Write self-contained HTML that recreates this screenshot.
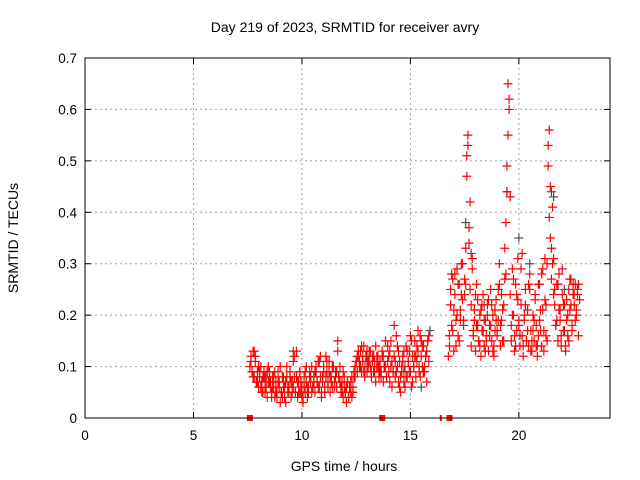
<!DOCTYPE html>
<html><head><meta charset="utf-8"><style>
body{margin:0;background:#fff;}
svg{display:block;font-family:"Liberation Sans",sans-serif;}
</style></head><body>
<svg id="chart" width="640" height="480">
<text x="345" y="32" text-anchor="middle" font-size="14">Day 219 of 2023, SRMTID for receiver avry</text>
<text x="344" y="471" text-anchor="middle" font-size="14">GPS time / hours</text>
<text x="18" y="238" text-anchor="middle" font-size="14" transform="rotate(-90 18 238)">SRMTID / TECUs</text>
<g id="grid"></g>
<g id="ticks"></g>
<g id="marks"></g>
<rect x="85" y="58" width="525" height="360" fill="none" stroke="#000" stroke-width="1"/>
</svg>
<script>
const xTicks=[0,5,10,15,20];
const yTicks=[0,0.1,0.2,0.3,0.4,0.5,0.6,0.7];
const yTickLabels=["0","0.1","0.2","0.3","0.4","0.5","0.6","0.7"];
const startA=7.6, stepA=0.05;
const srmtidA=[
0.10,0.12,0.09,0.13,0.08,0.11,0.07,0.09,0.06,0.08,0.10,0.07,0.05,0.09,0.06,0.08,0.04,0.07,0.09,0.06,
0.05,0.08,0.06,0.04,0.07,0.05,0.09,0.06,0.03,0.05,0.08,0.06,0.04,0.07,0.10,0.05,0.06,0.08,0.04,0.07,
0.06,0.12,0.05,0.08,0.04,0.07,0.09,0.05,0.06,0.03,0.08,0.05,0.07,0.04,0.06,0.09,0.07,0.10,0.06,0.08,
0.05,0.09,0.07,0.11,0.06,0.08,0.04,0.07,0.10,0.06,0.08,0.11,0.07,0.09,0.05,0.08,0.06,0.10,0.07,0.09,
0.06,0.15,0.08,0.10,0.05,0.07,0.04,0.06,0.05,0.03,0.07,0.04,0.06,0.05,0.08,0.06,0.09,0.08,0.11,0.09,
0.12,0.10,0.13,0.09,0.11,0.14,0.10,0.12,0.09,0.11,0.13,0.10,0.08,0.12,0.09,0.11,0.07,0.10,0.12,0.08,
0.11,0.09,0.12,0.07,0.10,0.15,0.08,0.11,0.09,0.13,0.10,0.06,0.09,0.12,0.08,0.16,0.10,0.07,0.11,0.05,
0.09,0.12,0.07,0.10,0.14,0.08,0.11,0.13,0.09,0.06,0.12,0.10,0.15,0.08,0.11,0.13,0.09,0.16,0.12,0.10,
0.14,0.09,0.12,0.07,0.15,0.11,null,null,null,null,null,null,null,null,null,null,null,null,null,null,
null,null,null,null,0.14,0.22,0.18,0.27,0.13,0.24,0.19,0.29,0.16,0.26,0.21,0.30,0.23,0.18,0.27,0.33,
0.47,0.55,0.37,0.25,0.14,0.31,0.17,0.21,0.13,0.18,0.23,0.15,0.20,0.12,0.17,0.24,0.14,0.19,0.16,0.22,
0.13,0.18,0.25,0.15,0.20,0.14,0.17,0.23,0.16,0.19,0.30,0.18,0.24,0.15,0.22,0.27,0.38,0.49,0.65,0.60,
0.24,0.15,0.29,0.20,0.13,0.26,0.17,0.31,0.19,0.14,0.22,0.16,0.12,0.19,0.25,0.15,0.21,0.14,0.28,0.17,
0.13,0.20,0.15,0.23,0.18,0.12,0.16,0.26,0.21,0.14,0.29,0.17,0.23,0.16,0.30,0.49,0.56,0.35,0.27,0.41,
0.31,0.22,0.18,0.26,0.15,0.21,0.19,0.14,0.24,0.17,0.22,0.13,0.19,0.16,0.25,0.21,0.27,0.18,0.24,0.22,
0.26,0.20,0.25,0.16,0.23];
const startB=7.65, stepB=0.1;
const srmtidB=[
0.11,0.08,0.12,0.07,0.09,0.05,0.08,0.06,0.10,0.07,
0.06,0.09,0.04,0.07,0.05,0.08,0.03,0.06,0.09,0.05,
0.08,0.13,0.05,0.07,0.04,0.09,0.06,0.08,0.05,0.07,
0.10,0.06,0.12,0.08,0.05,0.09,0.11,0.07,0.10,0.08,
0.13,0.07,0.05,0.08,0.06,0.04,0.07,0.05,0.10,0.12,
0.11,0.14,0.09,0.12,0.10,0.13,0.11,0.09,0.12,0.10,
0.08,0.12,0.10,0.14,0.07,0.11,0.18,0.09,0.13,0.08,
0.11,0.06,0.13,0.09,0.15,0.10,0.12,0.17,0.08,0.14,
0.10,0.13,0.16,null,null,null,null,null,null,null,
null,0.12,0.25,0.17,0.28,0.20,0.15,0.24,0.19,0.26,
0.53,0.42,0.29,0.19,0.26,0.15,0.21,0.17,0.13,0.20,
0.16,0.22,0.12,0.19,0.25,0.14,0.21,0.33,0.44,0.62,
0.18,0.27,0.14,0.23,0.16,0.32,0.20,0.15,0.26,0.13,
0.17,0.24,0.14,0.19,0.28,0.13,0.22,0.53,0.45,0.30,
0.25,0.19,0.28,0.16,0.22,0.14,0.20,0.27,0.17,0.24,
0.21,0.26];
const startC=7.7, stepC=0.1;
const srmtidC=[
0.09,0.13,0.07,0.10,0.06,0.08,0.05,0.09,0.07,0.04,
0.08,0.05,0.07,0.10,0.04,0.06,0.08,0.05,0.07,0.11,
0.05,0.07,0.09,0.04,0.06,0.10,0.05,0.08,0.06,0.09,
0.07,0.11,0.05,0.09,0.12,0.06,0.08,0.10,0.06,0.09,
0.08,0.06,0.09,0.05,0.07,0.06,0.04,0.08,0.11,0.13,
0.10,0.12,0.08,0.13,0.11,0.09,0.12,0.14,0.10,0.09,
0.13,0.10,0.08,0.12,0.15,0.09,0.11,0.14,0.06,0.10,
0.13,0.08,0.11,0.16,0.07,0.12,0.14,0.10,0.15,0.09,
0.12,0.15,null,null,null,null,null,null,null,null,
null,0.16,0.28,0.21,0.14,0.26,0.19,0.30,0.24,0.51,
0.34,0.22,0.16,0.24,0.18,0.14,0.22,0.19,0.15,0.23,
0.18,0.13,0.21,0.17,0.26,0.19,0.15,0.28,0.55,0.43,
0.20,0.16,0.24,0.18,0.29,0.14,0.22,0.17,0.25,0.15,
0.19,0.14,0.26,0.17,0.21,0.31,0.15,0.39,0.33,0.24,
0.18,0.26,0.21,0.29,0.17,0.23,0.15,0.22,0.26,0.19,
0.24];
const grayHours=[8.3,9.6,9.9,11.2,13.0,14.7,15.5,15.9,17.55,17.8,18.4,19.45,20.0,20.5,21.5,21.6,22.1];
const grayValues=[0.08,0.13,0.05,0.07,0.11,0.09,0.06,0.17,0.38,0.32,0.22,0.44,0.35,0.30,0.44,0.43,0.25];
const zeroHours=[7.6,13.7,16.4,16.8];

const L=85,R=610,T=58,B=418,XMAX=24.2,YMAX=0.7;
const xs=h=>L+(h/XMAX)*(R-L);
const ys=v=>B-(v/YMAX)*(B-T);
const NS="http://www.w3.org/2000/svg";
function mk(tag,attrs,parent){const e=document.createElementNS(NS,tag);for(const k in attrs)e.setAttribute(k,attrs[k]);parent.appendChild(e);return e;}
const grid=document.getElementById('grid'),ticks=document.getElementById('ticks'),marks=document.getElementById('marks');
xTicks.forEach(t=>{const x=xs(t);
 if(t>0){const g=mk('line',{x1:x,y1:T,x2:x,y2:B,stroke:'#a0a0a0','stroke-dasharray':'2,3'},grid);
 
 }
 mk('line',{x1:x,y1:B,x2:x,y2:B-6,stroke:'#000'},ticks);
 mk('line',{x1:x,y1:T,x2:x,y2:T+6,stroke:'#000'},ticks);
 const lb=mk('text',{x:x,y:B+22,'text-anchor':'middle','font-size':'13.5'},ticks);lb.textContent=t;
 
 });
yTicks.forEach((t,i)=>{const y=ys(t);
 if(t>0&&t<YMAX-1e-9){const g=mk('line',{x1:L,y1:y,x2:R,y2:y,stroke:'#a0a0a0','stroke-dasharray':'2,3'},grid);
 
 }
 mk('line',{x1:L,y1:y,x2:L+6,y2:y,stroke:'#000'},ticks);
 mk('line',{x1:R,y1:y,x2:R-6,y2:y,stroke:'#000'},ticks);
 const lb=mk('text',{x:L-8,y:y+5,'text-anchor':'end','font-size':'13.5'},ticks);lb.textContent=yTickLabels[i];
 
 });
function plus(h,v,color,name){const x=xs(h),y=ys(v);
 const p=mk('path',{d:`M${x-4.5},${y}H${x+4.5}M${x},${y-4.5}V${y+4.5}`,stroke:color,'stroke-width':'1.2',fill:'none'},marks);
 
 }
grayHours.forEach((h,i)=>plus(h,grayValues[i],'#505050','gray-point'));
srmtidA.forEach((v,i)=>{if(v!==null)plus(startA+i*stepA,v,'#ff0000','red-point');});
srmtidB.forEach((v,i)=>{if(v!==null)plus(startB+i*stepB,v,'#ff0000','red-point');});
srmtidC.forEach((v,i)=>{if(v!==null)plus(startC+i*stepC,v,'#ff0000','red-point');});
zeroHours.forEach((h,i)=>{const x=xs(h);
 const r=mk('rect',{x:x-(i==2?1:3),y:B-3,width:(i==2?2:6),height:6,fill:'#ff0000'},marks);
 
 });
</script>
</body></html>
